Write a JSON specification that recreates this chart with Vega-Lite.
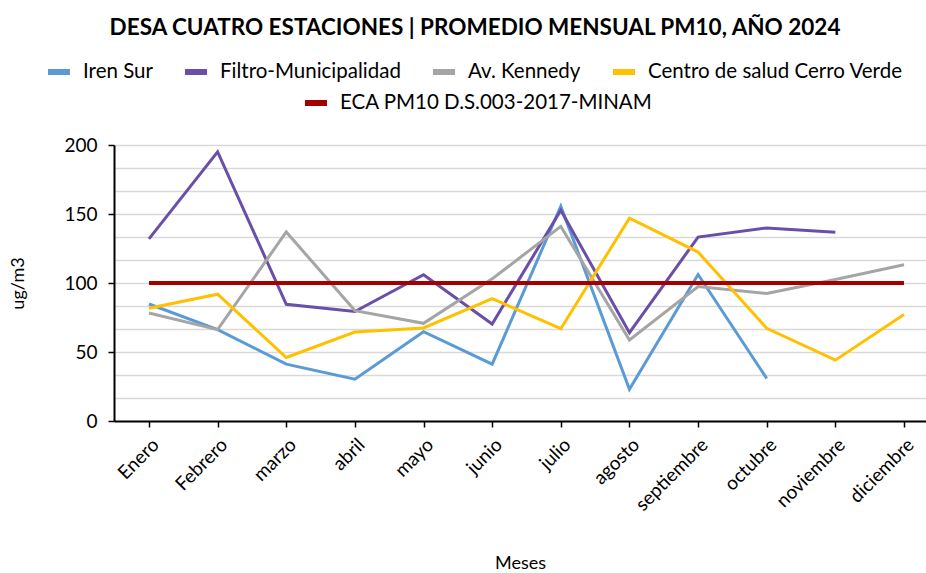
{
  "$schema": "https://vega.github.io/schema/vega-lite/v6.json",
  "width": 812,
  "height": 276,
  "autosize": "none",
  "padding": {"left": 114, "top": 145, "right": 0, "bottom": 152},
  "background": "white",
  "config": {
    "font": "Lato",
    "view": {"stroke": null}
  },
  "title": {
    "text": "DESA CUATRO ESTACIONES | PROMEDIO MENSUAL PM10, AÑO 2024",
    "fontSize": 22.5,
    "fontWeight": "bold",
    "color": "black",
    "anchor": "middle",
    "dx": -45,
    "offset": 19
  },
  "data": {
    "values": [
      {"mes": "Enero", "serie": "Iren Sur", "valor": 84.8},
      {"mes": "Febrero", "serie": "Iren Sur", "valor": 66.2},
      {"mes": "marzo", "serie": "Iren Sur", "valor": 41.2},
      {"mes": "abril", "serie": "Iren Sur", "valor": 30.3},
      {"mes": "mayo", "serie": "Iren Sur", "valor": 64.7},
      {"mes": "junio", "serie": "Iren Sur", "valor": 41.2},
      {"mes": "julio", "serie": "Iren Sur", "valor": 155.6},
      {"mes": "agosto", "serie": "Iren Sur", "valor": 23},
      {"mes": "septiembre", "serie": "Iren Sur", "valor": 106.2},
      {"mes": "octubre", "serie": "Iren Sur", "valor": 30.8},
      {"mes": "Enero", "serie": "Filtro-Municipalidad", "valor": 132},
      {"mes": "Febrero", "serie": "Filtro-Municipalidad", "valor": 195},
      {"mes": "marzo", "serie": "Filtro-Municipalidad", "valor": 84.6},
      {"mes": "abril", "serie": "Filtro-Municipalidad", "valor": 79.3},
      {"mes": "mayo", "serie": "Filtro-Municipalidad", "valor": 106},
      {"mes": "junio", "serie": "Filtro-Municipalidad", "valor": 70.3},
      {"mes": "julio", "serie": "Filtro-Municipalidad", "valor": 152.7},
      {"mes": "agosto", "serie": "Filtro-Municipalidad", "valor": 64},
      {"mes": "septiembre", "serie": "Filtro-Municipalidad", "valor": 133.3},
      {"mes": "octubre", "serie": "Filtro-Municipalidad", "valor": 139.9},
      {"mes": "noviembre", "serie": "Filtro-Municipalidad", "valor": 136.7},
      {"mes": "Enero", "serie": "Av. Kennedy", "valor": 78.3},
      {"mes": "Febrero", "serie": "Av. Kennedy", "valor": 66.2},
      {"mes": "marzo", "serie": "Av. Kennedy", "valor": 137},
      {"mes": "abril", "serie": "Av. Kennedy", "valor": 80},
      {"mes": "mayo", "serie": "Av. Kennedy", "valor": 70.8},
      {"mes": "junio", "serie": "Av. Kennedy", "valor": 103},
      {"mes": "julio", "serie": "Av. Kennedy", "valor": 141},
      {"mes": "agosto", "serie": "Av. Kennedy", "valor": 58.7},
      {"mes": "septiembre", "serie": "Av. Kennedy", "valor": 97.5},
      {"mes": "octubre", "serie": "Av. Kennedy", "valor": 92.4},
      {"mes": "noviembre", "serie": "Av. Kennedy", "valor": 102.5},
      {"mes": "diciembre", "serie": "Av. Kennedy", "valor": 113.2},
      {"mes": "Enero", "serie": "Centro de salud Cerro Verde", "valor": 81.7},
      {"mes": "Febrero", "serie": "Centro de salud Cerro Verde", "valor": 91.9},
      {"mes": "marzo", "serie": "Centro de salud Cerro Verde", "valor": 46},
      {"mes": "abril", "serie": "Centro de salud Cerro Verde", "valor": 64.5},
      {"mes": "mayo", "serie": "Centro de salud Cerro Verde", "valor": 67.4},
      {"mes": "junio", "serie": "Centro de salud Cerro Verde", "valor": 88.7},
      {"mes": "julio", "serie": "Centro de salud Cerro Verde", "valor": 66.9},
      {"mes": "agosto", "serie": "Centro de salud Cerro Verde", "valor": 147},
      {"mes": "septiembre", "serie": "Centro de salud Cerro Verde", "valor": 122.4},
      {"mes": "octubre", "serie": "Centro de salud Cerro Verde", "valor": 67.2},
      {"mes": "noviembre", "serie": "Centro de salud Cerro Verde", "valor": 44.1},
      {"mes": "diciembre", "serie": "Centro de salud Cerro Verde", "valor": 77.1},
      {"mes": "Enero", "serie": "ECA PM10 D.S.003-2017-MINAM", "valor": 100},
      {"mes": "Febrero", "serie": "ECA PM10 D.S.003-2017-MINAM", "valor": 100},
      {"mes": "marzo", "serie": "ECA PM10 D.S.003-2017-MINAM", "valor": 100},
      {"mes": "abril", "serie": "ECA PM10 D.S.003-2017-MINAM", "valor": 100},
      {"mes": "mayo", "serie": "ECA PM10 D.S.003-2017-MINAM", "valor": 100},
      {"mes": "junio", "serie": "ECA PM10 D.S.003-2017-MINAM", "valor": 100},
      {"mes": "julio", "serie": "ECA PM10 D.S.003-2017-MINAM", "valor": 100},
      {"mes": "agosto", "serie": "ECA PM10 D.S.003-2017-MINAM", "valor": 100},
      {"mes": "septiembre", "serie": "ECA PM10 D.S.003-2017-MINAM", "valor": 100},
      {"mes": "octubre", "serie": "ECA PM10 D.S.003-2017-MINAM", "valor": 100},
      {"mes": "noviembre", "serie": "ECA PM10 D.S.003-2017-MINAM", "valor": 100},
      {"mes": "diciembre", "serie": "ECA PM10 D.S.003-2017-MINAM", "valor": 100}
    ]
  },
  "encoding": {
    "x": {
      "field": "mes",
      "type": "ordinal",
      "scale": {
        "type": "point",
        "domain": ["Enero", "Febrero", "marzo", "abril", "mayo", "junio", "julio", "agosto", "septiembre", "octubre", "noviembre", "diciembre"],
        "padding": 0.415,
        "align": 0.614
      },
      "axis": {
        "title": "Meses",
        "titleFontSize": 18,
        "titleFontWeight": "normal",
        "titleColor": "black",
        "titlePadding": 40,
        "labelAngle": -45,
        "labelFontSize": 19,
        "labelColor": "black",
        "labelPadding": 8,
        "labelLimit": 300,
        "domainColor": "black",
        "domainWidth": 2,
        "tickColor": "black",
        "tickWidth": 1.5,
        "tickSize": 6,
        "grid": false
      }
    },
    "y": {
      "field": "valor",
      "type": "quantitative",
      "scale": {"domain": [0, 200], "nice": false, "zero": true},
      "axis": {
        "title": "ug/m3",
        "titleFontSize": 18,
        "titleFontWeight": "normal",
        "titleColor": "black",
        "titlePadding": 36,
        "values": [0, 16.6667, 33.3333, 50, 66.6667, 83.3333, 100, 116.6667, 133.3333, 150, 166.6667, 183.3333, 200],
        "labelExpr": "datum.value % 50 === 0 ? datum.label : ''",
        "labelFontSize": 19,
        "labelColor": "black",
        "labelPadding": 11,
        "domainColor": "black",
        "domainWidth": 2,
        "tickColor": "black",
        "tickWidth": 1.5,
        "tickSize": 6,
        "tickOpacity": {"condition": {"test": "datum.value % 50 === 0", "value": 1}, "value": 0},
        "grid": true,
        "gridColor": "#d9d9d9",
        "gridWidth": 1.5
      }
    }
  },
  "layer": [
    {
      "transform": [{"filter": "datum.serie !== 'ECA PM10 D.S.003-2017-MINAM'"}],
      "mark": {"type": "line", "strokeWidth": 3},
      "encoding": {
        "color": {
          "field": "serie",
          "type": "nominal",
          "scale": {
            "domain": ["Iren Sur", "Filtro-Municipalidad", "Av. Kennedy", "Centro de salud Cerro Verde"],
            "range": ["#5B9BD5", "#6A4FA8", "#A5A5A5", "#FFC000"]
          },
          "legend": {
            "title": null,
            "orient": "none",
            "direction": "horizontal",
            "legendX": -69,
            "legendY": -87,
            "labelFontSize": 20.5,
            "labelColor": "black",
            "labelOffset": 10,
            "labelLimit": 400,
            "symbolType": "stroke",
            "symbolSize": 484,
            "symbolStrokeWidth": 6,
            "columnPadding": 20
          }
        }
      }
    },
    {
      "transform": [{"filter": "datum.serie === 'ECA PM10 D.S.003-2017-MINAM'"}],
      "mark": {"type": "line", "strokeWidth": 4},
      "encoding": {
        "color": {
          "field": "serie",
          "type": "nominal",
          "scale": {
            "domain": ["ECA PM10 D.S.003-2017-MINAM"],
            "range": ["#A50000"]
          },
          "legend": {
            "title": null,
            "orient": "none",
            "direction": "horizontal",
            "legendX": 188,
            "legendY": -56,
            "labelFontSize": 20.5,
            "labelColor": "black",
            "labelOffset": 10,
            "labelLimit": 400,
            "symbolType": "stroke",
            "symbolSize": 484,
            "symbolStrokeWidth": 6
          }
        }
      }
    }
  ],
  "resolve": {"scale": {"color": "independent"}}
}
